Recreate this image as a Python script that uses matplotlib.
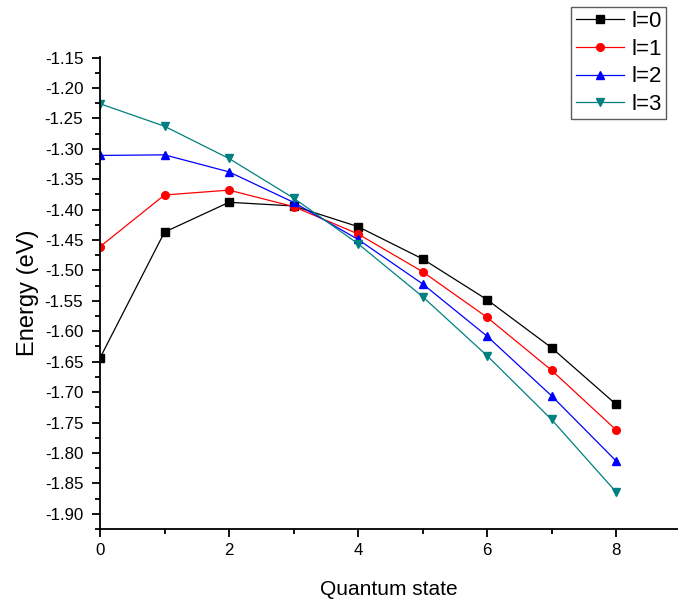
import matplotlib
matplotlib.use("Agg")
import matplotlib.pyplot as plt
from matplotlib.ticker import MultipleLocator, FormatStrFormatter

plt.rcParams['font.family'] = ['Liberation Sans', 'DejaVu Sans']

states = [0, 1, 2, 3, 4, 5, 6, 7, 8]
l0 = [-1.644, -1.437, -1.388, -1.394, -1.428, -1.481, -1.548, -1.627, -1.720]
l1 = [-1.461, -1.376, -1.368, -1.395, -1.440, -1.502, -1.577, -1.664, -1.762]
l2 = [-1.311, -1.310, -1.338, -1.388, -1.449, -1.522, -1.608, -1.706, -1.813]
l3 = [-1.226, -1.263, -1.316, -1.381, -1.456, -1.543, -1.640, -1.745, -1.864]
labels = ['l=0', 'l=1', 'l=2', 'l=3']
colors = ['#000000', '#ff0000', '#0000ff', '#008080']
markers = ['s', 'o', '^', 'v']

fig = plt.figure(figsize=(6.78, 6.02), dpi=100)
ax = fig.add_axes([100/678, 1-529/602, 1-100/678, (529-57.5)/602])

for ys, lab, c, m in zip([l0, l1, l2, l3], labels, colors, markers):
    ax.plot(states, ys, color=c, marker=m, markersize=5.5, linewidth=0.9, label=lab)

ax.set_xlim(0, 578/64.5)
ax.set_ylim(-1.925, -1.15)
ax.xaxis.set_major_locator(MultipleLocator(2))
ax.xaxis.set_minor_locator(MultipleLocator(1))
ax.yaxis.set_major_locator(MultipleLocator(0.05))
ax.yaxis.set_minor_locator(MultipleLocator(0.025))
ax.yaxis.set_major_formatter(FormatStrFormatter('%.2f'))

for s in ['top', 'right']:
    ax.spines[s].set_visible(False)
for s in ['left', 'bottom']:
    ax.spines[s].set_linewidth(1.3)

ax.tick_params(which='major', direction='out', length=6, width=1.3, labelsize=12.2, pad=4)
ax.tick_params(axis='y', which='major', pad=6)
ax.tick_params(which='minor', direction='out', length=3.5, width=1.3)

ax.set_xlabel('Quantum state', fontsize=15, labelpad=16)
ax.set_ylabel('Energy (eV)', fontsize=17, labelpad=4)

leg = fig.legend(loc='upper right', bbox_to_anchor=(666/678, 1-6.5/602),
                 fontsize=16, frameon=True, fancybox=False, edgecolor='#333333',
                 handlelength=2.2, handletextpad=0.3, labelspacing=0.3,
                 borderpad=0.2, borderaxespad=0)
leg.get_frame().set_linewidth(1.0)

fig.savefig('out.png', dpi=100)
